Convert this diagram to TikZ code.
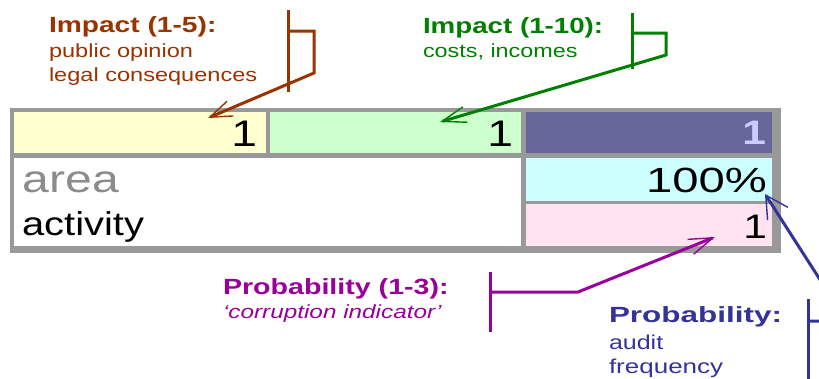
\documentclass[tikz,border=0pt]{standalone}
\usepackage{fontspec}
\setmainfont{Liberation Sans}
\usetikzlibrary{arrows.meta}
\definecolor{framegray}{HTML}{999999}
\definecolor{cellyellow}{HTML}{FFFFD0}
\definecolor{cellgreen}{HTML}{CCFFCC}
\definecolor{celldark}{HTML}{666699}
\definecolor{cellcyan}{HTML}{CCFFFF}
\definecolor{cellpink}{HTML}{FFE4F0}
\definecolor{lav}{HTML}{CCCCFF}
\definecolor{areagray}{HTML}{8C8C8C}
\definecolor{cbrown}{HTML}{993300}
\definecolor{cgreen}{HTML}{008000}
\definecolor{cpurple}{HTML}{990099}
\definecolor{cblue}{HTML}{333399}
\newcommand{\sx}[2]{\scalebox{#1}[1]{#2}}
\newcommand{\fs}[1]{\fontsize{#1}{#1}\selectfont}
\begin{document}
\begin{tikzpicture}[x=1pt,y=-1pt,
  cell/.style={anchor=north west, inner sep=0pt, outer sep=0pt, draw=none},
  txt/.style={inner sep=0pt, outer sep=0pt},
  conn/.style={line width=3pt, line join=miter},
  barb/.style={-{Straight Barb[length=#1, width=16pt, line width=1.4pt]}},
  barb/.default=20pt
]
\useasboundingbox (0,0) rectangle (819,378);
\fill[white] (0,0) rectangle (819,378);

% table
\node[cell, fill=framegray, minimum width=771pt, minimum height=145pt] (tbl) at (10,108) {};
\node[cell, fill=cellyellow, minimum width=252pt, minimum height=41pt] (yel) at (14,112) {};
\node[cell, fill=cellgreen, minimum width=251pt, minimum height=41pt] (grn) at (270,112) {};
\node[cell, fill=celldark, minimum width=246pt, minimum height=41pt] (drk) at (526,112) {};
\node[cell, fill=white, minimum width=507pt, minimum height=88pt] (wht) at (14,158) {};
\node[cell, fill=cellcyan, minimum width=246pt, minimum height=43pt] (cyn) at (526,158) {};
\node[cell, fill=cellpink, minimum width=246pt, minimum height=42pt] (pnk) at (526,204) {};

% table texts
\node[txt, anchor=base east] (v1) at (257,146) {\fs{37}\sx{1.25}{1}};
\node[txt, anchor=base east] (v2) at (513,146) {\fs{37}\sx{1.25}{1}};
\node[txt, anchor=base east, text=lav] (v3) at (766,144) {\fs{34}\sx{1.25}{\bfseries 1}};
\node[txt, anchor=base east] (v4) at (767,192) {\fs{35}\sx{1.35}{100\%}};
\node[txt, anchor=base east] (v5) at (767,238) {\fs{34}\sx{1.25}{1}};
\node[txt, anchor=base west, text=areagray] (area) at (23,192) {\fs{38.5}\sx{1.25}{area}};
\node[txt, anchor=base west] (act) at (22,235) {\fs{33}\sx{1.21}{activity}};

% annotation texts
\node[txt, anchor=base west, text=cbrown] (t1) at (49,32) {\fs{22}\sx{1.28}{\bfseries Impact (1-5):}};
\node[txt, anchor=base west, text=cbrown] (t1a) at (49,57) {\fs{19}\sx{1.24}{public opinion}};
\node[txt, anchor=base west, text=cbrown] (t1b) at (49,81) {\fs{19}\sx{1.24}{legal consequences}};

\node[txt, anchor=base west, text=cgreen] (t2) at (423,33) {\fs{22}\sx{1.26}{\bfseries Impact (1-10):}};
\node[txt, anchor=base west, text=cgreen] (t2a) at (423,57) {\fs{19}\sx{1.23}{costs, incomes}};

\node[txt, anchor=base west, text=cpurple] (t3) at (223,294) {\fs{22}\sx{1.30}{\bfseries Probability (1-3):}};
\node[txt, anchor=base west, text=cpurple] (t3a) at (223,318) {\fs{19}\sx{1.28}{\itshape `corruption indicator'}};

\node[txt, anchor=base west, text=cblue] (t4) at (609,322) {\fs{22}\sx{1.43}{\bfseries Probability:}};
\node[txt, anchor=base west, text=cblue] (t4a) at (609,349) {\fs{20}\sx{1.25}{audit}};
\node[txt, anchor=base west, text=cblue] (t4b) at (609,373) {\fs{20}\sx{1.3}{frequency}};

% connector points
\coordinate (bt) at (288,10);   \coordinate (bb) at (288,92);
\coordinate (b1) at (288,31);   \coordinate (b2) at (314,31);
\coordinate (b3) at (314,73);   \coordinate (tipY) at (208,118);

\coordinate (gt) at (632,13);   \coordinate (gb) at (632,69);
\coordinate (g1) at (632,33);   \coordinate (g2) at (666,33);
\coordinate (g3) at (666,55);   \coordinate (tipG) at (440,122);

\coordinate (pt) at (490,272);  \coordinate (pb) at (490,332);
\coordinate (p1) at (490,292);  \coordinate (p2) at (578,292);
\coordinate (tipP) at (715,237);

\coordinate (ut) at (808,299);  \coordinate (ub) at (808,395);
\coordinate (u1) at (808,321);  \coordinate (u2) at (835,321);
\coordinate (u3) at (835,303);  \coordinate (tipU) at (765,194);

% connectors
\draw[conn, cbrown] (bt) -- (bb);
\draw[conn, cbrown, barb=22pt] (b1) -- (b2) -- (b3) -- (tipY);

\draw[conn, cgreen] (gt) -- (gb);
\draw[conn, cgreen, barb=24pt] (g1) -- (g2) -- (g3) -- (tipG);

\draw[conn, cpurple] (pt) -- (pb);
\draw[conn, cpurple, barb=24pt] (p1) -- (p2) -- (tipP);

\begin{scope}
\clip (0,0) rectangle (819,378);
\draw[conn, cblue] (ut) -- (ub);
\draw[conn, cblue, -{Straight Barb[length=22pt, width=24pt, line width=1.4pt]}] (u1) -- (u2) -- (u3) -- (tipU);
\end{scope}
\end{tikzpicture}
\end{document}
